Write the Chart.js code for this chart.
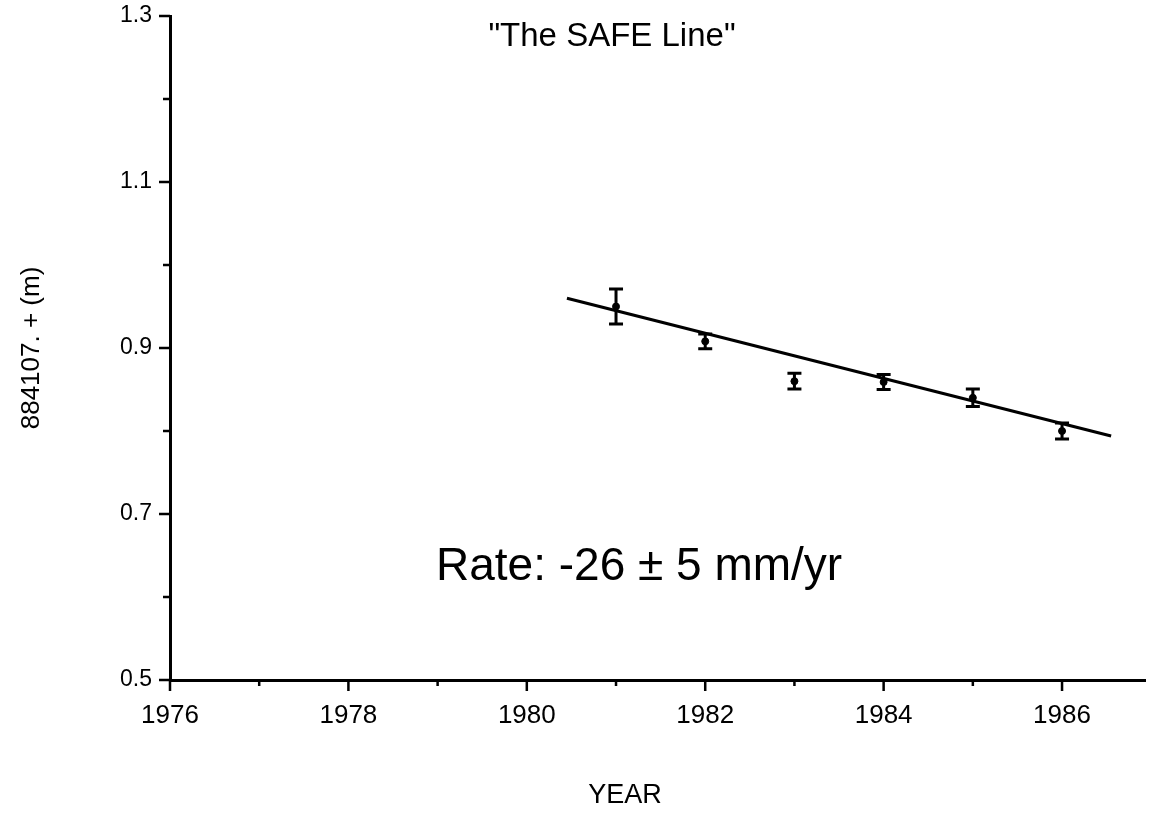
<!DOCTYPE html>
<html>
<head>
<meta charset="utf-8">
<script src="https://cdn.jsdelivr.net/npm/chart.js@4"></script>
<style>
  html, body { margin: 0; padding: 0; background: #fff; }
  #wrap { width: 1150px; height: 814px; }
</style>
</head>
<body>
<div id="wrap"><canvas id="myChart" width="1150" height="814"></canvas></div>
<script>
const ctx = document.getElementById("myChart").getContext("2d");

const years = [1981, 1982, 1983, 1984, 1985, 1986];
const values = [0.950, 0.908, 0.860, 0.859, 0.840, 0.800];
const errors = [0.021, 0.009, 0.0095, 0.009, 0.0105, 0.0095];

// fitted rate line (end points)
const fitYears = [1980.45, 1986.55];
const fitValues = [0.960, 0.794];

// axis ticks
const xTicks = [1976, 1978, 1980, 1982, 1984, 1986];
const xMinorTicks = [1977, 1979, 1981, 1983, 1985];
const yTicks = [0.5, 0.7, 0.9, 1.1, 1.3];
const yMinorTicks = [0.6, 0.8, 1.0, 1.2];

const FONT = "'Liberation Sans', Arial, Helvetica, sans-serif";

// error bars, tick marks and the free text
const errorBarPlugin = {
  id: "errorBarPlugin",
  afterDatasetsDraw(chart) {
    const { ctx, scales: { x, y } } = chart;
    ctx.save();
    ctx.strokeStyle = "#000";
    ctx.lineWidth = 3;
    years.forEach((yr, i) => {
      const px = x.getPixelForValue(yr);
      const top = y.getPixelForValue(values[i] + errors[i]);
      const bot = y.getPixelForValue(values[i] - errors[i]);
      ctx.beginPath();
      ctx.moveTo(px, top);
      ctx.lineTo(px, bot);
      ctx.moveTo(px - 7, top);
      ctx.lineTo(px + 7, top);
      ctx.moveTo(px - 7, bot);
      ctx.lineTo(px + 7, bot);
      ctx.stroke();
    });
    ctx.restore();
  },
  afterDraw(chart) {
    const { ctx, chartArea: { left, bottom }, scales: { x, y } } = chart;
    ctx.save();
    ctx.strokeStyle = "#000";
    ctx.lineWidth = 2.5;
    ctx.beginPath();
    // x ticks point down
    xTicks.forEach((v) => {
      const px = x.getPixelForValue(v);
      ctx.moveTo(px, bottom);
      ctx.lineTo(px, bottom + 11);
    });
    xMinorTicks.forEach((v) => {
      const px = x.getPixelForValue(v);
      ctx.moveTo(px, bottom);
      ctx.lineTo(px, bottom + 6);
    });
    // y ticks point left
    yTicks.forEach((v) => {
      const py = y.getPixelForValue(v);
      ctx.moveTo(left, py);
      ctx.lineTo(left - 11, py);
    });
    yMinorTicks.forEach((v) => {
      const py = y.getPixelForValue(v);
      ctx.moveTo(left, py);
      ctx.lineTo(left - 7, py);
    });
    ctx.stroke();

    // texts
    ctx.fillStyle = "#000";
    ctx.textBaseline = "alphabetic";
    ctx.textAlign = "center";
    ctx.font = "33px " + FONT;
    ctx.fillText('"The SAFE Line"', 612, 46);
    ctx.font = "27px " + FONT;
    ctx.fillText("YEAR", 625, 803);
    ctx.textAlign = "left";
    ctx.font = "46px " + FONT;
    ctx.fillText("Rate: -26 \u00B1 5 mm/yr", 436, 580);
    ctx.restore();
  },
};

const myChart = new Chart(ctx, {
  type: "scatter",
  data: {
    datasets: [
      {
        label: "SAFE",
        data: years.map((yr, i) => ({ x: yr, y: values[i] })),
        backgroundColor: "#000",
        borderColor: "#000",
        pointRadius: 3.5,
        showLine: false,
      },
      {
        label: "fit",
        data: fitYears.map((yr, i) => ({ x: yr, y: fitValues[i] })),
        borderColor: "#000",
        borderWidth: 3,
        pointRadius: 0,
        showLine: true,
      },
    ],
  },
  options: {
    responsive: false,
    animation: false,
    layout: {
      padding: { top: 16, right: 0, bottom: 0, left: 0 },
    },
    scales: {
      x: {
        type: "linear",
        min: 1976,
        max: 1986.93,
        afterBuildTicks(scale) {
          scale.ticks = xTicks.map((v) => ({ value: v }));
        },
        afterFit(scale) {
          scale.height = 134;
          scale.paddingLeft = 0;
          scale.paddingRight = 0;
        },
        border: { display: true, color: "#000", width: 3 },
        grid: { display: false, drawTicks: false },
        ticks: {
          color: "#000",
          padding: 20,
          maxRotation: 0,
          autoSkip: false,
          font: { family: FONT, size: 26 },
          callback: (v) => String(v),
        },
      },
      y: {
        min: 0.5,
        max: 1.3,
        afterBuildTicks(scale) {
          scale.ticks = yTicks.map((v) => ({ value: v }));
        },
        afterFit(scale) {
          scale.width = 170;
          scale.paddingTop = 0;
          scale.paddingBottom = 0;
        },
        border: { display: true, color: "#000", width: 3 },
        grid: { display: false, drawTicks: false },
        ticks: {
          color: "#000",
          padding: 18,
          font: { family: FONT, size: 23 },
          callback: (v) => v.toFixed(1),
        },
        title: {
          display: true,
          text: "884107. + (m)",
          color: "#000",
          padding: { top: 16, bottom: 0 },
          font: { family: FONT, size: 26 },
        },
      },
    },
    plugins: {
      legend: { display: false },
      tooltip: { enabled: false },
    },
  },
  plugins: [errorBarPlugin],
});
</script>
</body>
</html>
